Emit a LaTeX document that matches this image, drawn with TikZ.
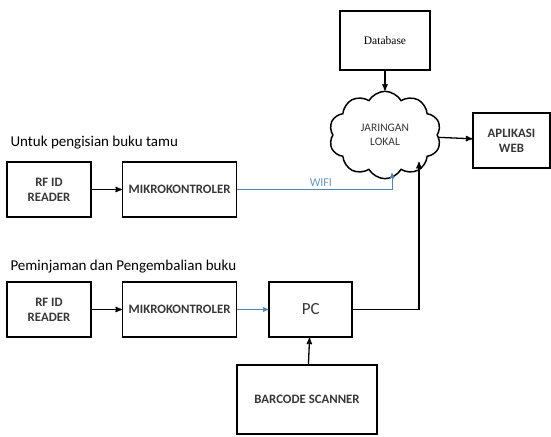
\documentclass[tikz,border=0pt]{standalone}
\usepackage{fontspec}
\setmainfont{Carlito}
\newfontfamily\dbfont{Liberation Serif}
\usepackage{tikz}
\usetikzlibrary{arrows,positioning,shapes.symbols}
\definecolor{wifiblue}{RGB}{84,130,178}
\definecolor{boxtext}{RGB}{55,55,55}
\tikzset{
    %Define standard arrow tip
    >=stealth',
    %Define style for boxes
    blok/.style={
           rectangle,
           draw=black, line width=1.6pt,
           minimum width=84pt,
           minimum height=55pt,
           font=\bfseries\fontsize{12.8}{15}\selectfont,
           text=boxtext,
           align=center},
    awan/.style={
           cloud, cloud puffs=10, cloud puff arc=120,
           draw=black, line width=1.5pt,
           minimum width=112pt,
           minimum height=72pt,
           font=\fontsize{11.5}{14}\selectfont,
           text=boxtext,
           align=center},
    judul/.style={
           anchor=west,
           font=\fontsize{15}{17}\selectfont},
    % Define arrow style
    pil/.style={
           ->,
           line width=1.3pt},
    pilwifi/.style={
           ->,
           draw=wifiblue,
           line width=1pt}
}
\begin{document}
\begin{tikzpicture}[x=1pt,y=-1pt,node distance=30pt]
\useasboundingbox (0,0) rectangle (551,436);
 %nodes
\node[blok, font=\dbfont\fontsize{11.5}{13}\selectfont, text=black, minimum width=90pt, minimum height=59pt](db) at (385,40.5){Database};
\node[awan](lan) at (385,135){JARINGAN\\LOKAL};
\node[blok, minimum width=77pt](web) at (511.5,140.5){APLIKASI\\WEB};
\node[judul](tamu) at (7,143){Untuk pengisian buku tamu};
\node[blok](rf1) at (49,189.5){RF ID\\READER};
\node[blok, minimum width=114pt, right=of rf1](mk1){MIKROKONTROLER};
\node[judul](pinjam) at (7,267){Peminjaman dan Pengembalian buku};
\node[blok](rf2) at (49,309.5){RF ID\\READER};
\node[blok, minimum width=114pt, right=of rf2](mk2){MIKROKONTROLER};
\node[blok, minimum width=83pt, font=\fontsize{17}{19}\selectfont, right=31pt of mk2](pc){PC};
\node[blok, minimum width=140pt, minimum height=69pt](bar) at (307,399.5){BARCODE SCANNER};
\coordinate (wifiin) at (392,173);
\coordinate (pcin) at (419,162);
\path[pil]
    (db) edge (lan)
    (lan) edge (web)
    (rf1) edge (mk1)
    (rf2) edge (mk2)
    (bar) edge (pc);
\draw[pilwifi] (mk1.east) -| node[pos=0.27, above=-1pt, font=\fontsize{12}{14}\selectfont, text=wifiblue!85]{WIFI} (wifiin);
\draw[pilwifi] (mk2) -- (pc);
\draw[pil] (pc.east) -| (pcin);
\end{tikzpicture}
\end{document}
